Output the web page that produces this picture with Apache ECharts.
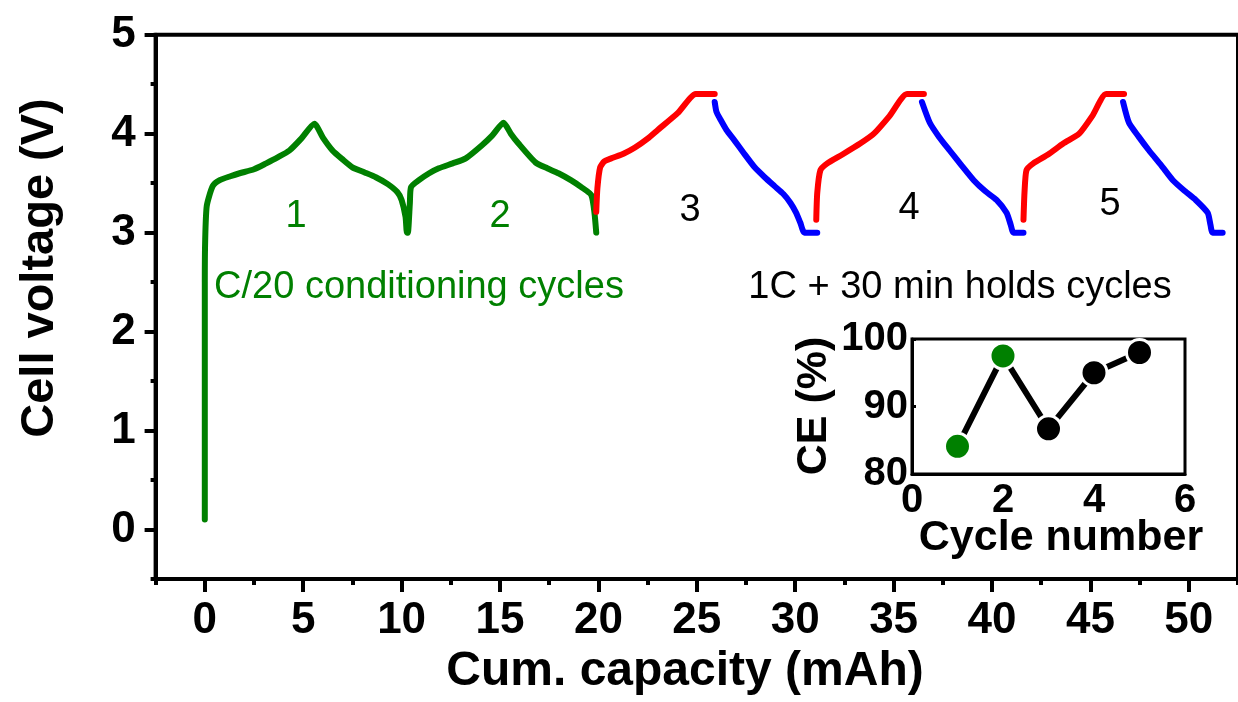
<!DOCTYPE html>
<html>
<head>
<meta charset="utf-8">
<script src="https://cdn.jsdelivr.net/npm/echarts@6/dist/echarts.min.js"></script>
<style>
  html, body { margin: 0; padding: 0; background: #fff; }
  #chart { width: 1238px; height: 702px; }
</style>
</head>
<body>
<div id="chart"></div>
<script>
// Voltage profile vs cumulative capacity: two C/20 conditioning cycles,
// then three 1C cycles with 30 min holds (charge in red, discharge in blue).
const conditioningCycles = [
  [0, 0.1], [0, 1.5], [0, 2.5], [0.02, 2.93], [0.1, 3.27], [0.4, 3.47], [0.76, 3.53],
  [1.3, 3.57], [1.77, 3.6], [2.5, 3.64], [3.12, 3.7], [3.7, 3.76], [4.3, 3.83],
  [4.9, 3.95], [5.57, 4.1], [6.0, 3.96], [6.49, 3.83], [7.0, 3.74], [7.5, 3.66],
  [8.1, 3.61], [8.69, 3.56], [9.3, 3.49], [9.78, 3.41], [10.0, 3.33], [10.2, 3.16],
  [10.27, 3.0], [10.32, 3.0], [10.42, 3.3], [10.48, 3.46], [10.88, 3.53], [11.4, 3.6],
  [11.89, 3.65], [12.6, 3.7], [13.26, 3.75], [14.07, 3.88], [14.6, 3.98], [15.18, 4.11],
  [15.55, 4.0], [15.94, 3.9], [16.8, 3.71], [17.4, 3.65], [17.97, 3.6], [18.6, 3.53],
  [19.13, 3.46], [19.64, 3.38], [19.8, 3.2], [19.89, 3.0]
];
const charge3 = [
  [19.89, 3.21], [19.95, 3.45], [20.09, 3.66], [20.3, 3.72], [20.65, 3.75], [21.3, 3.8],
  [21.86, 3.86], [22.5, 3.95], [23.03, 4.04], [24.04, 4.21], [24.95, 4.4], [25.91, 4.4]
];
const discharge3 = [
  [25.91, 4.32], [26.0, 4.22], [26.21, 4.14], [26.5, 4.04], [26.92, 3.93], [27.4, 3.8],
  [27.94, 3.66], [28.45, 3.56], [28.95, 3.47], [29.4, 3.39], [29.76, 3.3], [30.05, 3.2],
  [30.26, 3.1], [30.47, 3.0], [31.12, 3.0]
];
const charge4 = [
  [31.07, 3.13], [31.12, 3.4], [31.28, 3.63], [31.63, 3.7], [32.4, 3.79], [33.3, 3.9],
  [34.0, 4.0], [34.8, 4.18], [35.68, 4.4], [36.54, 4.4]
];
const discharge4 = [
  [36.44, 4.32], [36.84, 4.11], [37.3, 3.97], [37.85, 3.83], [38.45, 3.68], [39.07, 3.53],
  [39.65, 3.42], [40.23, 3.33], [40.74, 3.2], [40.95, 3.08], [41.09, 3.0], [41.6, 3.0]
];
const charge5 = [
  [41.6, 3.13], [41.65, 3.4], [41.75, 3.63], [42.1, 3.7], [42.85, 3.79], [43.62, 3.9],
  [44.43, 4.0], [45.1, 4.18], [45.8, 4.4], [46.71, 4.4]
];
const discharge5 = [
  [46.66, 4.32], [46.96, 4.11], [47.45, 3.97], [47.98, 3.83], [48.6, 3.68], [49.19, 3.53],
  [49.8, 3.42], [50.35, 3.33], [50.96, 3.2], [51.1, 3.08], [51.21, 3.0], [51.72, 3.0]
];

// Axis ticks
const capacityMajorTicks = [0, 5, 10, 15, 20, 25, 30, 35, 40, 45, 50];
const capacityMinorTicks = [-2.5, 2.5, 7.5, 12.5, 17.5, 22.5, 27.5, 32.5, 37.5, 42.5, 47.5, 52.5];
const voltageMajorTicks = [0, 1, 2, 3, 4, 5];
const voltageMinorTicks = [-0.5, 0.5, 1.5, 2.5, 3.5, 4.5];

// Inset: coulombic efficiency per cycle
const cycleNumbers = [1, 2, 3, 4, 5];
const ceValues = [84.1, 97.5, 86.7, 95.0, 98.0];
const cycleIsConditioning = [true, true, false, false, false];

const GREEN = '#008000', RED = '#ff0000', BLUE = '#0000ff', BLACK = '#000000';
const FONT = "'Liberation Sans', Arial, Helvetica, sans-serif";

function curve(data, color) {
  return {
    type: 'line', xAxisIndex: 0, yAxisIndex: 0, data: data,
    symbol: 'none', smooth: 0.2, silent: true,
    lineStyle: { color: color, width: 6, cap: 'round', join: 'round' }
  };
}

const chart = echarts.init(document.getElementById('chart'), null, { renderer: 'canvas' });

const boldLabel = (size) => ({ color: BLACK, fontFamily: FONT, fontWeight: 'bold', fontSize: size });

chart.setOption({
  animation: false,
  backgroundColor: '#fff',
  grid: [
    { left: 155.6, top: 34.7, right: -4.4, bottom: 123, show: true, borderColor: BLACK, borderWidth: 4, backgroundColor: 'transparent' },
    { left: 912, top: 339, width: 273, height: 135, show: true, borderColor: BLACK, borderWidth: 3, backgroundColor: 'transparent' }
  ],
  xAxis: [
    {
      gridIndex: 0, type: 'value', min: -2.5, max: 52.5, position: 'bottom',
      axisLine: { show: true, onZero: false, lineStyle: { color: BLACK, width: 4 } },
      axisTick: { show: true, customValues: capacityMajorTicks, length: 13, lineStyle: { color: BLACK, width: 4 } },
      axisLabel: Object.assign({ customValues: capacityMajorTicks, margin: 20 }, boldLabel(44)),
      splitLine: { show: false }
    },
    {
      gridIndex: 0, type: 'value', min: -2.5, max: 52.5, position: 'bottom',
      axisLine: { show: false, onZero: false },
      axisTick: { show: true, customValues: capacityMinorTicks, length: 6, lineStyle: { color: BLACK, width: 4 } },
      axisLabel: { show: false },
      splitLine: { show: false }
    },
    {
      gridIndex: 1, type: 'value', min: 0, max: 6, interval: 2, position: 'bottom',
      axisLine: { show: true, onZero: false, lineStyle: { color: BLACK, width: 3 } },
      axisTick: { show: false },
      axisLabel: Object.assign({ margin: 7 }, boldLabel(40)),
      splitLine: { show: false }
    }
  ],
  yAxis: [
    {
      gridIndex: 0, type: 'value', min: -0.5, max: 5, position: 'left',
      axisLine: { show: true, onZero: false, lineStyle: { color: BLACK, width: 4 } },
      axisTick: { show: true, customValues: voltageMajorTicks, length: 11, lineStyle: { color: BLACK, width: 4 } },
      axisLabel: Object.assign({ customValues: voltageMajorTicks, margin: 20 }, boldLabel(44)),
      splitLine: { show: false }
    },
    {
      gridIndex: 0, type: 'value', min: -0.5, max: 5, position: 'left',
      axisLine: { show: false, onZero: false },
      axisTick: { show: true, customValues: voltageMinorTicks, length: 5, lineStyle: { color: BLACK, width: 4 } },
      axisLabel: { show: false },
      splitLine: { show: false }
    },
    {
      gridIndex: 1, type: 'value', min: 80, max: 100, interval: 10, position: 'left',
      axisLine: { show: true, onZero: false, lineStyle: { color: BLACK, width: 3 } },
      axisTick: { show: true, inside: true, length: 4, lineStyle: { color: BLACK, width: 3 } },
      axisLabel: Object.assign({ margin: 4 }, boldLabel(40)),
      splitLine: { show: false }
    }
  ],
  series: [
    curve(conditioningCycles, GREEN),
    curve(charge3, RED),
    curve(discharge3, BLUE),
    curve(charge4, RED),
    curve(discharge4, BLUE),
    curve(charge5, RED),
    curve(discharge5, BLUE),
    {
      type: 'line', xAxisIndex: 2, yAxisIndex: 2, silent: true,
      data: cycleNumbers.map((c, i) => ({
        value: [c, ceValues[i]],
        itemStyle: { color: cycleIsConditioning[i] ? GREEN : BLACK }
      })),
      symbol: 'circle', symbolSize: 26, showAllSymbol: true,
      itemStyle: { borderColor: '#fff', borderWidth: 3 },
      lineStyle: { color: BLACK, width: 6 },
      z: 5
    }
  ],
  graphic: [
    {
      type: 'text', x: 685, y: 672, style: {
        text: 'Cum. capacity (mAh)', fill: BLACK, font: 'bold 48px ' + FONT,
        textAlign: 'center', textVerticalAlign: 'middle'
      }
    },
    {
      type: 'text', x: 40, y: 268, rotation: Math.PI / 2, style: {
        text: 'Cell voltage (V)', fill: BLACK, font: 'bold 47px ' + FONT,
        textAlign: 'center', textVerticalAlign: 'middle'
      }
    },
    {
      type: 'text', x: 1061, y: 538, style: {
        text: 'Cycle number', fill: BLACK, font: 'bold 43px ' + FONT,
        textAlign: 'center', textVerticalAlign: 'middle'
      }
    },
    {
      type: 'text', x: 814, y: 406, rotation: Math.PI / 2, style: {
        text: 'CE (%)', fill: BLACK, font: 'bold 43px ' + FONT,
        textAlign: 'center', textVerticalAlign: 'middle'
      }
    },
    { type: 'text', x: 296, y: 217, style: { text: '1', fill: GREEN, font: '38px ' + FONT, textAlign: 'center', textVerticalAlign: 'middle' } },
    { type: 'text', x: 500, y: 217, style: { text: '2', fill: GREEN, font: '38px ' + FONT, textAlign: 'center', textVerticalAlign: 'middle' } },
    { type: 'text', x: 690, y: 211, style: { text: '3', fill: BLACK, font: '38px ' + FONT, textAlign: 'center', textVerticalAlign: 'middle' } },
    { type: 'text', x: 909, y: 209, style: { text: '4', fill: BLACK, font: '38px ' + FONT, textAlign: 'center', textVerticalAlign: 'middle' } },
    { type: 'text', x: 1110, y: 205, style: { text: '5', fill: BLACK, font: '38px ' + FONT, textAlign: 'center', textVerticalAlign: 'middle' } },
    {
      type: 'text', x: 419, y: 288, style: {
        text: 'C/20 conditioning cycles', fill: GREEN, font: '38px ' + FONT,
        textAlign: 'center', textVerticalAlign: 'middle'
      }
    },
    {
      type: 'text', x: 960, y: 288, style: {
        text: '1C + 30 min holds cycles', fill: BLACK, font: '38px ' + FONT,
        textAlign: 'center', textVerticalAlign: 'middle'
      }
    }
  ]
});
</script>
</body>
</html>
